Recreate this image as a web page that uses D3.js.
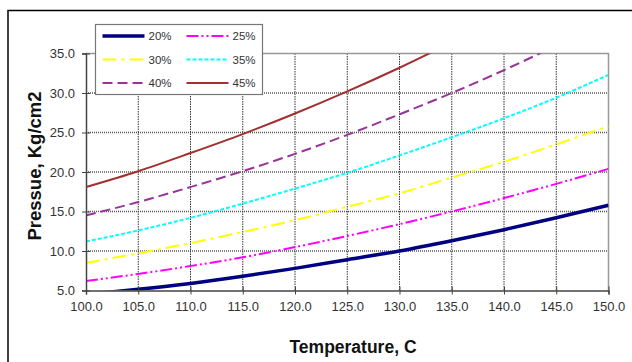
<!DOCTYPE html>
<html>
<head>
<meta charset="utf-8">
<script src="https://cdn.jsdelivr.net/npm/d3@7"></script>
<style>
  body { margin: 0; background: #fff; }
  svg { display: block; font-family: "Liberation Sans", Arial, sans-serif; }
</style>
</head>
<body>
<script>
const WIDTH = 632;
const HEIGHT = 362;

var temps = [100, 105, 110, 115, 120, 125, 130, 135, 140, 145, 150];
var xTicks = [100, 105, 110, 115, 120, 125, 130, 135, 140, 145, 150];
var yTicks = [5, 10, 15, 20, 25, 30, 35];

var p20 = [4.5, 5.15, 5.9, 6.8, 7.8, 8.9, 10.0, 11.3, 12.7, 14.2, 15.8];
var p25 = [6.2, 7.1, 8.1, 9.2, 10.5, 11.9, 13.4, 15.0, 16.7, 18.5, 20.4];
var p30 = [8.5, 9.7, 11.0, 12.4, 13.9, 15.6, 17.3, 19.3, 21.3, 23.5, 25.8];
var p35 = [11.2, 12.6, 14.2, 16.0, 17.9, 19.9, 22.1, 24.4, 26.8, 29.4, 32.3];
var p40 = [14.5, 16.2, 18.1, 20.1, 22.3, 24.7, 27.3, 30.0, 32.9, 36.0];
var p45 = [18.1, 20.1, 22.4, 24.8, 27.4, 30.2, 33.2, 36.4];

var series = [
    {name: '20%', values: p20, color: '#000080', width: 3.5, dash: null},
    {name: '25%', values: p25, color: '#ff00ff', width: 2, dash: '12,3,2,3,2,3'},
    {name: '30%', values: p30, color: '#ffff00', width: 2, dash: '14,5,3,5'},
    {name: '35%', values: p35, color: '#00ffff', width: 2, dash: '4,2'},
    {name: '40%', values: p40, color: '#993399', width: 2, dash: '10,5'},
    {name: '45%', values: p45, color: '#a33030', width: 2, dash: null}
];

var margin = {left: 86, right: WIDTH - 608.5, top: 53.5, bottom: HEIGHT - 290.5};
var plotW = WIDTH - margin.left - margin.right;
var plotH = HEIGHT - margin.top - margin.bottom;

var svg = d3.select('body').append('svg')
    .attr('width', WIDTH)
    .attr('height', HEIGHT);

// outer frame (runs off the right and bottom edges)
svg.append('rect')
    .attr('x', 8).attr('y', 10.5)
    .attr('width', 700).attr('height', 400)
    .attr('fill', 'none')
    .attr('stroke', '#000')
    .attr('stroke-width', 1.5);

var xScale = d3.scaleLinear().domain([100, 150]).range([0, plotW]);
var yScale = d3.scaleLinear().domain([5, 35]).range([plotH, 0]);

var g = svg.append('g')
    .attr('transform', 'translate(' + margin.left + ',' + margin.top + ')');

svg.append('defs').append('clipPath').attr('id', 'clip')
    .append('rect').attr('width', plotW).attr('height', plotH);

// grid
g.selectAll('.hgrid').data(yTicks.slice(1, -1)).enter().append('line')
    .attr('x1', 0).attr('x2', plotW)
    .attr('y1', function (d) { return yScale(d); })
    .attr('y2', function (d) { return yScale(d); })
    .attr('stroke', '#555')
    .attr('stroke-width', 1.6)
    .attr('stroke-dasharray', '1,1');
g.selectAll('.vgrid').data(xTicks.slice(1, -1)).enter().append('line')
    .attr('y1', 0).attr('y2', plotH)
    .attr('x1', function (d) { return xScale(d); })
    .attr('x2', function (d) { return xScale(d); })
    .attr('stroke', '#333')
    .attr('stroke-width', 1)
    .attr('stroke-dasharray', '1.5,1');

// plot border top/right
g.append('path')
    .attr('d', 'M0,0H' + plotW + 'V' + plotH)
    .attr('fill', 'none')
    .attr('stroke', '#999')
    .attr('stroke-width', 1.5);

var line = d3.line()
    .x(function (d, i) { return xScale(temps[i]); })
    .y(function (d) { return yScale(d); })
    .curve(d3.curveMonotoneX);

var lines = g.append('g').attr('clip-path', 'url(#clip)');
series.forEach(function (s) {
    lines.append('path')
        .attr('d', line(s.values))
        .attr('fill', 'none')
        .attr('stroke', s.color)
        .attr('stroke-width', s.width)
        .attr('stroke-dasharray', s.dash);
});

// axes
var xAxis = d3.axisBottom(xScale).tickValues(xTicks).tickSize(4).tickPadding(7)
    .tickFormat(function (d) { return d.toFixed(1); });
var yAxis = d3.axisLeft(yScale).tickValues(yTicks).tickSize(4).tickPadding(7)
    .tickFormat(function (d) { return d.toFixed(1); });

var xg = g.append('g').attr('transform', 'translate(0,' + plotH + ')').call(xAxis);
var yg = g.append('g').call(yAxis);
[xg, yg].forEach(function (a) {
    a.select('.domain').attr('stroke', '#444').attr('stroke-width', 1.5);
    a.selectAll('.tick line').attr('stroke', '#444');
    a.selectAll('.tick text').attr('fill', '#333').style('font-size', '13px');
    a.attr('font-family', null);
});
xg.selectAll('.tick line').attr('y1', -4).attr('y2', 4);
yg.selectAll('.tick line').attr('x1', 4).attr('x2', -4);

// titles
svg.append('text')
    .attr('x', 353).attr('y', 353)
    .attr('text-anchor', 'middle')
    .style('font-size', '17.5px')
    .style('font-weight', 'bold')
    .attr('fill', '#111')
    .text('Temperature, C');

svg.append('text')
    .attr('transform', 'translate(41,166) rotate(-90)')
    .attr('text-anchor', 'middle')
    .style('font-size', '18.5px')
    .style('font-weight', 'bold')
    .attr('fill', '#111')
    .text('Pressue, Kg/cm2');

// legend
var legend = svg.append('g').attr('transform', 'translate(95.5,24.5)');
legend.append('rect')
    .attr('width', 167).attr('height', 70)
    .attr('fill', '#fff')
    .attr('stroke', '#777')
    .attr('stroke-width', 1.2);

series.forEach(function (s, i) {
    var col = i % 2;
    var row = Math.floor(i / 2);
    var lx = 7 + col * 84;
    var ly = 11.5 + row * 23.5;
    legend.append('line')
        .attr('x1', lx).attr('x2', lx + 42)
        .attr('y1', ly).attr('y2', ly)
        .attr('stroke', s.color)
        .attr('stroke-width', s.width)
        .attr('stroke-dasharray', s.dash);
    legend.append('text')
        .attr('x', lx + 46).attr('y', ly + 4)
        .style('font-size', '11.5px')
        .attr('fill', '#333')
        .text(s.name);
});
</script>
</body>
</html>
